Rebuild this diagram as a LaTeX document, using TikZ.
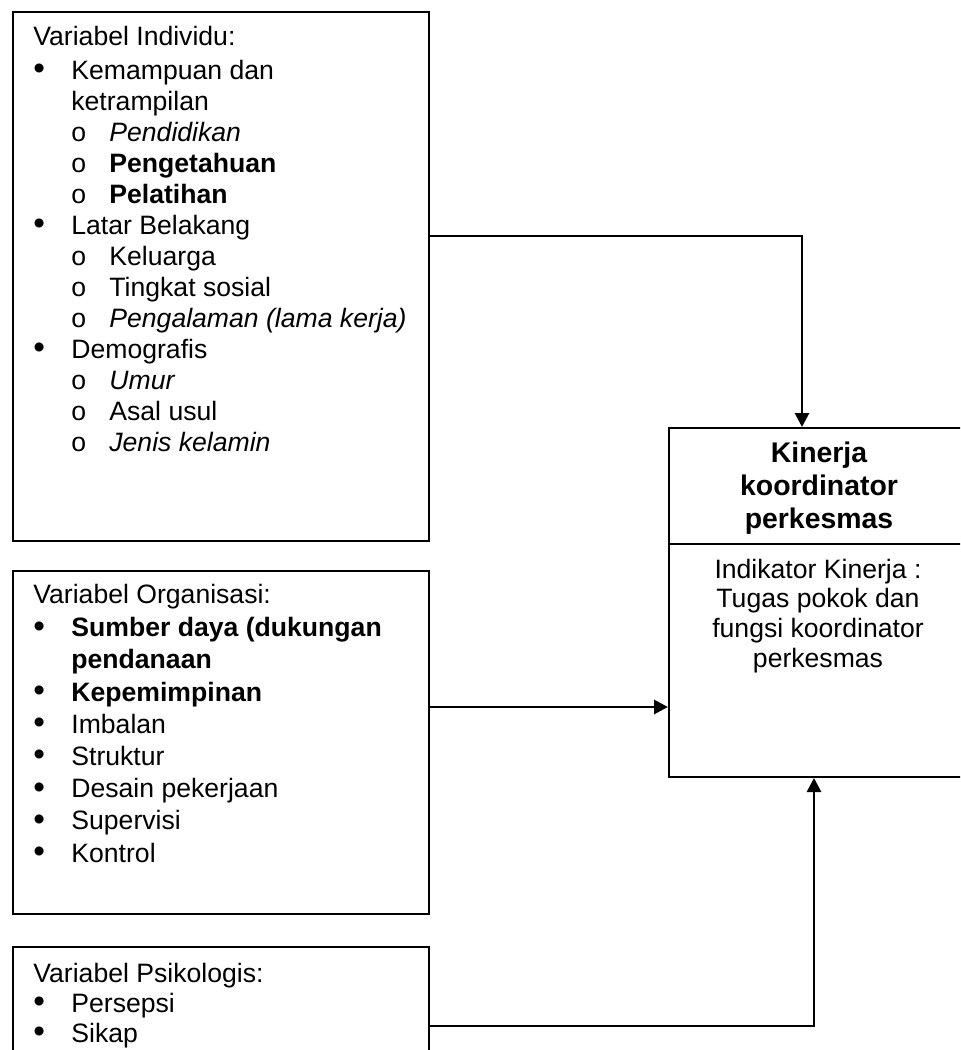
\documentclass[tikz,border=0pt]{standalone}
\usepackage{fontspec}
\setmainfont{Liberation Sans}
\usetikzlibrary{arrows.meta}

\newcommand{\bitem}[1]{\makebox[19pt][l]{\raisebox{-0.25pt}{\scalebox{1.25}{\textbullet}}}#1}
\newcommand{\oitem}[1]{\hspace*{19pt}\makebox[19pt][l]{o}#1}
\newcommand{\cont}[1]{\hspace*{19pt}#1}

\begin{document}
\begin{tikzpicture}[x=0.5pt, y=-0.5pt,
  varbox/.style = {draw, line width=1pt, rectangle, anchor=north west, inner sep=0pt},
  vartext/.style = {anchor=base west, align=left, inner sep=0pt},
  conn/.style = {line width=1.4pt, -{Triangle[length=7pt,width=7pt]}}]
\useasboundingbox (0,0) rectangle (960,1050);
\clip (0,0) rectangle (960,1050);

\node[varbox, minimum width=208pt, minimum height=264.5pt] (indiv) at (12,11) {};
\node[varbox, minimum width=208pt, minimum height=171.5pt] (org) at (12,570) {};
\node[varbox, minimum width=208pt, minimum height=80pt] (psy) at (12,946) {};
\node[varbox, minimum width=153.5pt, minimum height=174.5pt] (kin) at (668,427) {};
\draw[line width=1pt] (kin.west |- 0,544) coordinate (d1) -- (kin.east |- 0,544) coordinate (d2);

% base anchor sits on the last line
\node[vartext, font=\fontsize{13.3pt}{15.5pt}\selectfont] (indivtext) at (33,451) {Variabel Individu:\\[1.5pt]
\bitem{Kemampuan dan}\\
\cont{ketrampilan}\\
\oitem{\textit{Pendidikan}}\\
\oitem{\textbf{Pengetahuan}}\\
\oitem{\textbf{Pelatihan}}\\
\bitem{Latar Belakang}\\
\oitem{Keluarga}\\
\oitem{Tingkat sosial}\\
\oitem{\textit{Pengalaman (lama kerja)}}\\
\bitem{Demografis}\\
\oitem{\textit{Umur}}\\
\oitem{Asal usul}\\
\oitem{\textit{Jenis kelamin}}};

\node[vartext, font=\fontsize{13.3pt}{16.1pt}\selectfont] (orgtext) at (33,862) {Variabel Organisasi:\\[0.4pt]
\bitem{\textbf{Sumber daya (dukungan}}\\
\cont{\textbf{pendanaan}}\\
\bitem{\textbf{Kepemimpinan}}\\
\bitem{Imbalan}\\
\bitem{Struktur}\\
\bitem{Desain pekerjaan}\\
\bitem{Supervisi}\\
\bitem{Kontrol}};

\node[vartext, font=\fontsize{13.3pt}{14.9pt}\selectfont] (psytext) at (33,1042) {Variabel Psikologis:\\
\bitem{Persepsi}\\
\bitem{Sikap}};

\node[anchor=base, align=center, inner sep=0pt, font=\fontsize{14.2pt}{16.4pt}\selectfont\bfseries] (kintitle) at (819,528) {Kinerja\\koordinator\\perkesmas};
\node[anchor=base, align=center, inner sep=0pt, font=\fontsize{13.3pt}{14.8pt}\selectfont] (kintext) at (818,667) {Indikator Kinerja :\\Tugas pokok dan\\fungsi koordinator\\perkesmas};

\coordinate (j1) at (802,236);
\coordinate (j2) at (0,707);
\coordinate (j3) at (814,1026);
\draw[conn] (j1 -| indiv.east) -| (j1 |- kin.north);
\draw[conn] (j2 -| org.east) -- (j2 -| kin.west);
\draw[conn] (j3 -| psy.east) -| (j3 |- kin.south);

\end{tikzpicture}
\end{document}
